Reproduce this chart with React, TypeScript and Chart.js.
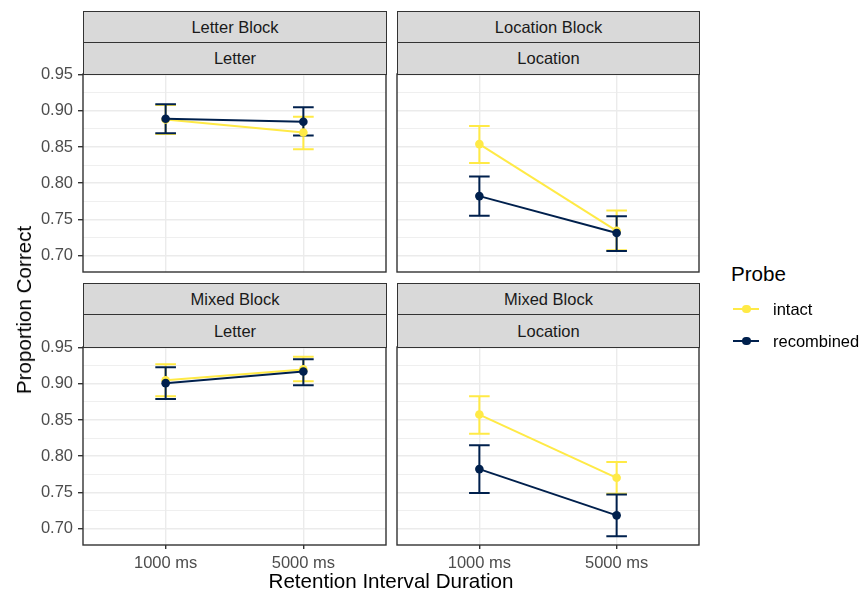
import React, { useEffect, useRef } from "react";
import { Chart, registerables } from "chart.js";

Chart.register(...registerables);

// ---------- data ----------
const categories = ["1000 ms", "5000 ms"];
const xPositions = [1, 2];
const yMajorTicks = [0.7, 0.75, 0.8, 0.85, 0.9, 0.95];
const yMinorTicks = [0.725, 0.775, 0.825, 0.875, 0.925];
const yMin = 0.677;
const yMax = 0.951;
const probeLabels = ["intact", "recombined"];

// Letter Block / Letter
const letterBlockIntact = [0.888, 0.87];
const letterBlockIntactLo = [0.868, 0.847];
const letterBlockIntactHi = [0.908, 0.892];
const letterBlockRecombined = [0.889, 0.885];
const letterBlockRecombinedLo = [0.869, 0.866];
const letterBlockRecombinedHi = [0.909, 0.905];

// Location Block / Location
const locationBlockIntact = [0.854, 0.734];
const locationBlockIntactLo = [0.828, 0.707];
const locationBlockIntactHi = [0.879, 0.762];
const locationBlockRecombined = [0.782, 0.731];
const locationBlockRecombinedLo = [0.755, 0.706];
const locationBlockRecombinedHi = [0.809, 0.754];

// Mixed Block / Letter
const mixedLetterIntact = [0.905, 0.92];
const mixedLetterIntactLo = [0.883, 0.9035];
const mixedLetterIntactHi = [0.927, 0.9375];
const mixedLetterRecombined = [0.901, 0.917];
const mixedLetterRecombinedLo = [0.879, 0.898];
const mixedLetterRecombinedHi = [0.923, 0.934];

// Mixed Block / Location
const mixedLocationIntact = [0.8575, 0.77];
const mixedLocationIntactLo = [0.831, 0.748];
const mixedLocationIntactHi = [0.883, 0.792];
const mixedLocationRecombined = [0.782, 0.718];
const mixedLocationRecombinedLo = [0.749, 0.689];
const mixedLocationRecombinedHi = [0.815, 0.747];

// ---------- styles ----------
const INTACT = "#FFEA46";
const RECOMB = "#00204D";
const FONT = "'Liberation Sans', Arial, Helvetica, sans-serif";

const panels = [
  {
    block: "Letter Block", feature: "Letter",
    intact: letterBlockIntact, intactLo: letterBlockIntactLo, intactHi: letterBlockIntactHi,
    recomb: letterBlockRecombined, recombLo: letterBlockRecombinedLo, recombHi: letterBlockRecombinedHi,
  },
  {
    block: "Location Block", feature: "Location",
    intact: locationBlockIntact, intactLo: locationBlockIntactLo, intactHi: locationBlockIntactHi,
    recomb: locationBlockRecombined, recombLo: locationBlockRecombinedLo, recombHi: locationBlockRecombinedHi,
  },
  {
    block: "Mixed Block", feature: "Letter",
    intact: mixedLetterIntact, intactLo: mixedLetterIntactLo, intactHi: mixedLetterIntactHi,
    recomb: mixedLetterRecombined, recombLo: mixedLetterRecombinedLo, recombHi: mixedLetterRecombinedHi,
  },
  {
    block: "Mixed Block", feature: "Location",
    intact: mixedLocationIntact, intactLo: mixedLocationIntactLo, intactHi: mixedLocationIntactHi,
    recomb: mixedLocationRecombined, recombLo: mixedLocationRecombinedLo, recombHi: mixedLocationRecombinedHi,
  },
];

// layout of each panel (chart area) in page pixels
const layout = [
  { left: 83, right: 386, top: 74, bottom: 272, showY: true, showX: false, stripTop: 11 },
  { left: 397, right: 699, top: 74, bottom: 272, showY: false, showX: false, stripTop: 11 },
  { left: 83, right: 386, top: 347, bottom: 545, showY: true, showX: true, stripTop: 283 },
  { left: 397, right: 699, top: 347, bottom: 545, showY: false, showX: true, stripTop: 283 },
];

const PAD = 24;

const isMajor = (v: number) => yMajorTicks.some((m) => Math.abs(m - v) < 1e-6);

function makeChart(canvas: HTMLCanvasElement, p: any, l: any, padL: number, padR: number, padB: number) {
  const errorPlugin = {
    id: "errorBars",
    beforeDatasetsDraw(chart: any) {
      const { ctx } = chart;
      const xs = chart.scales.x;
      const ys = chart.scales.y;
      const groups = [
        { lo: p.intactLo, hi: p.intactHi, color: INTACT },
        { lo: p.recombLo, hi: p.recombHi, color: RECOMB },
      ];
      ctx.save();
      ctx.lineWidth = 2;
      ctx.lineCap = "butt";
      groups.forEach((g) => {
        ctx.strokeStyle = g.color;
        xPositions.forEach((xv, i) => {
          const cx = xs.getPixelForValue(xv);
          const hw = xs.getPixelForValue(xv + 0.075) - cx;
          const yl = ys.getPixelForValue(g.lo[i]);
          const yh = ys.getPixelForValue(g.hi[i]);
          ctx.beginPath();
          ctx.moveTo(cx, yl);
          ctx.lineTo(cx, yh);
          ctx.moveTo(cx - hw, yl);
          ctx.lineTo(cx + hw, yl);
          ctx.moveTo(cx - hw, yh);
          ctx.lineTo(cx + hw, yh);
          ctx.stroke();
        });
      });
      ctx.restore();
    },
  };
  const borderPlugin = {
    id: "panelBorder",
    afterDraw(chart: any) {
      const { ctx, chartArea: a } = chart;
      ctx.save();
      ctx.strokeStyle = "#333333";
      ctx.lineWidth = 1.4;
      ctx.strokeRect(a.left, a.top, a.right - a.left, a.bottom - a.top);
      ctx.restore();
    },
  };

  return new Chart(canvas, {
    type: "line",
    data: {
      datasets: [
        {
          label: probeLabels[1],
          data: xPositions.map((x, i) => ({ x, y: p.recomb[i] })),
          borderColor: RECOMB,
          backgroundColor: RECOMB,
          pointBackgroundColor: RECOMB,
          pointBorderWidth: 0,
          pointRadius: 4.3,
          borderWidth: 2,
          tension: 0,
          order: 0,
        },
        {
          label: probeLabels[0],
          data: xPositions.map((x, i) => ({ x, y: p.intact[i] })),
          borderColor: INTACT,
          backgroundColor: INTACT,
          pointBackgroundColor: INTACT,
          pointBorderWidth: 0,
          pointRadius: 4.3,
          borderWidth: 2,
          tension: 0,
          order: 1,
        },
      ],
    },
    options: {
      responsive: false,
      animation: false,
      events: [],
      layout: { padding: { top: PAD, bottom: padB, left: padL, right: padR } },
      plugins: { legend: { display: false }, tooltip: { enabled: false } },
      scales: {
        x: {
          type: "linear",
          min: 0.4,
          max: 2.6,
          afterBuildTicks: (axis: any) => {
            axis.ticks = xPositions.map((v) => ({ value: v }));
          },
          afterFit: (axis: any) => {
            axis.height = l.showX ? 40 : 0;
          },
          border: { display: false },
          grid: {
            color: "#EBEBEB",
            lineWidth: 1.4,
            drawTicks: l.showX,
            tickLength: 4,
            tickColor: "#333333",
            tickWidth: 1.4,
          },
          ticks: {
            display: l.showX,
            autoSkip: false,
            maxRotation: 0,
            padding: 5,
            color: "#4D4D4D",
            font: { family: FONT, size: 16.5 },
            callback: (v: any) => {
              const idx = xPositions.indexOf(Number(v));
              return idx >= 0 ? categories[idx] : "";
            },
          },
        },
        y: {
          type: "linear",
          min: yMin,
          max: yMax,
          afterBuildTicks: (axis: any) => {
            axis.ticks = [...yMajorTicks, ...yMinorTicks].sort((a, b) => a - b).map((v) => ({ value: v }));
          },
          afterFit: (axis: any) => {
            axis.width = l.showY ? 83 : 0;
          },
          border: { display: false },
          grid: {
            color: "#EBEBEB",
            lineWidth: (c: any) => (c.tick && isMajor(c.tick.value) ? 1.4 : 0.8),
            drawTicks: l.showY,
            tickLength: 5,
            tickWidth: 1.4,
            tickColor: (c: any) => (c.tick && isMajor(c.tick.value) ? "#333333" : "rgba(0,0,0,0)"),
          },
          ticks: {
            display: l.showY,
            autoSkip: false,
            padding: 5,
            color: "#4D4D4D",
            font: { family: FONT, size: 16.5 },
            callback: (v: any) => (isMajor(Number(v)) ? Number(v).toFixed(2) : ""),
          },
        },
      },
    },
    plugins: [errorPlugin, borderPlugin],
  } as any);
}

function Panel({ p, l }: { p: any; l: any }) {
  const ref = useRef<HTMLCanvasElement>(null);
  const padL = l.showY ? 0 : 10;
  const padR = 7;
  const padB = l.showX ? 0 : PAD;
  const cLeft = l.left - padL - (l.showY ? 83 : 0);
  const cTop = l.top - PAD;
  const cWidth = l.right + padR - cLeft;
  const cHeight = l.bottom - cTop + (l.showX ? 40 : PAD);
  useEffect(() => {
    if (!ref.current) return;
    const chart = makeChart(ref.current, p, l, padL, padR, padB);
    return () => chart.destroy();
  }, []);
  const stripStyle: React.CSSProperties = {
    position: "absolute",
    left: l.left,
    width: l.right - l.left + 1,
    background: "#D9D9D9",
    border: "1.4px solid #333333",
    boxSizing: "border-box",
    display: "flex",
    alignItems: "center",
    justifyContent: "center",
    color: "#1A1A1A",
    fontFamily: FONT,
    fontSize: 16.5,
  };
  return (
    <>
      <canvas
        ref={ref}
        width={cWidth}
        height={cHeight}
        style={{ position: "absolute", left: cLeft, top: cTop, width: cWidth, height: cHeight }}
      />
      <div style={{ ...stripStyle, top: l.stripTop, height: 32 }}>{p.block}</div>
      <div style={{ ...stripStyle, top: l.stripTop + 31, height: l.top - l.stripTop - 31 + 1 }}>{p.feature}</div>
    </>
  );
}

export default function App() {
  const legendRow = (label: string, color: string, cy: number) => (
    <div key={label}>
      <div style={{ position: "absolute", left: 733, top: cy - 1, width: 26, height: 2, background: color }} />
      <div
        style={{
          position: "absolute", left: 742, top: cy - 4.3, width: 8.6, height: 8.6,
          borderRadius: "50%", background: color,
        }}
      />
      <div
        style={{
          position: "absolute", left: 773, top: cy - 10, height: 20, lineHeight: "20px",
          fontFamily: FONT, fontSize: 16.5, color: "#000",
        }}
      >
        {label}
      </div>
    </div>
  );
  return (
    <div style={{ position: "absolute", left: 0, top: 0, width: 862, height: 594, background: "#fff", overflow: "hidden" }}>
      {panels.map((p, i) => (
        <Panel key={i} p={p} l={layout[i]} />
      ))}
      <div
        style={{
          position: "absolute", left: 24, top: 309.5, transform: "translate(-50%, -50%) rotate(-90deg)",
          whiteSpace: "nowrap", fontFamily: FONT, fontSize: 20.6, color: "#000",
        }}
      >
        Proportion Correct
      </div>
      <div
        style={{
          position: "absolute", left: 391, top: 581, transform: "translate(-50%, -50%)",
          whiteSpace: "nowrap", fontFamily: FONT, fontSize: 20.6, color: "#000",
        }}
      >
        Retention Interval Duration
      </div>
      <div
        style={{
          position: "absolute", left: 731, top: 274, transform: "translateY(-50%)",
          whiteSpace: "nowrap", fontFamily: FONT, fontSize: 20.6, color: "#000",
        }}
      >
        Probe
      </div>
      {legendRow(probeLabels[0], INTACT, 309)}
      {legendRow(probeLabels[1], RECOMB, 341)}
    </div>
  );
}
